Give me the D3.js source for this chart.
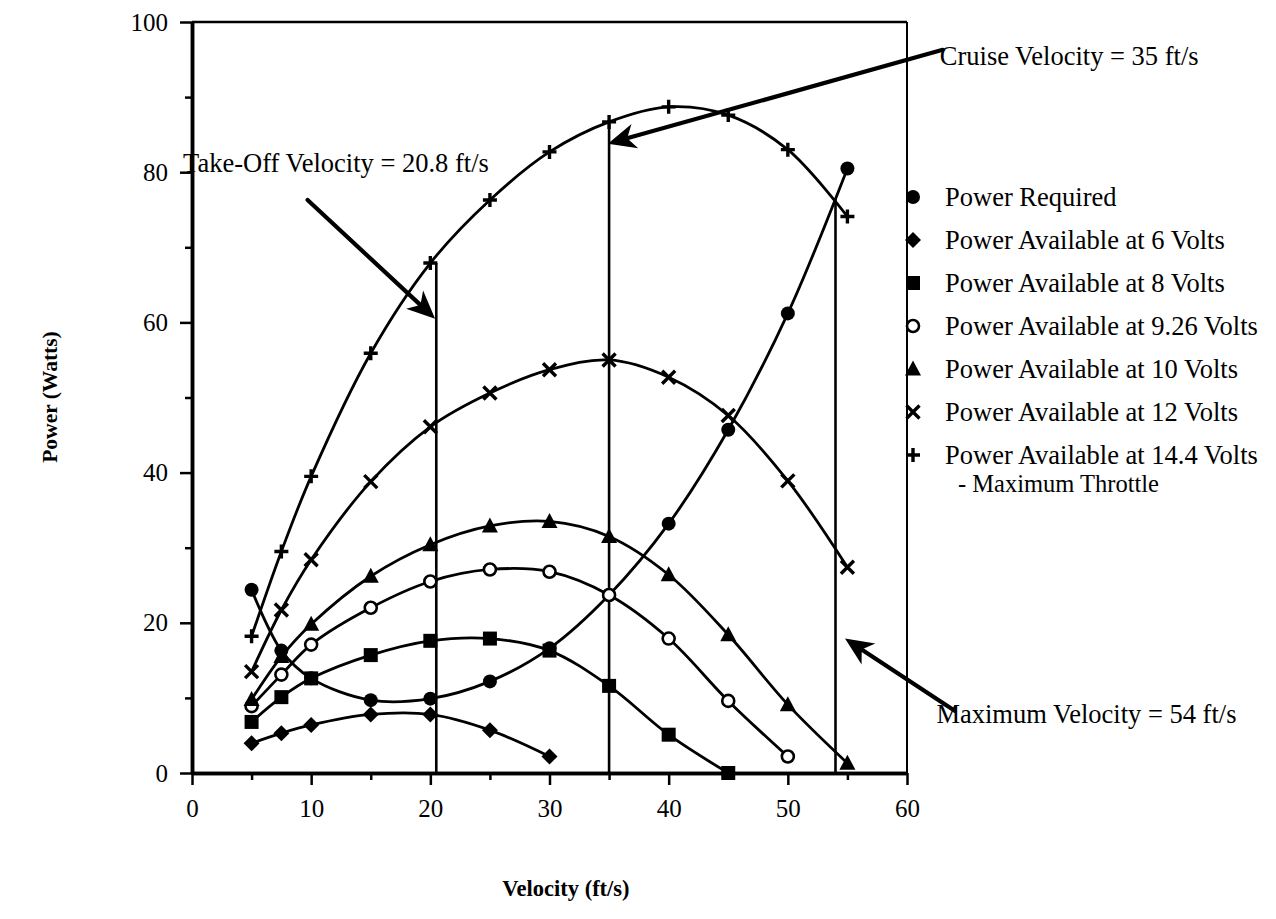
<!DOCTYPE html>
<html>
<head>
<meta charset="utf-8">
<script src="https://cdn.jsdelivr.net/npm/d3@7"></script>
<style>
  html, body { margin: 0; padding: 0; background: #fff; }
  svg { display: block; }
</style>
</head>
<body>
<svg id="chart" width="1276" height="919"></svg>
<script>
// ---------- data ----------
const velocity = [5, 7.5, 10, 15, 20, 25, 30, 35, 40, 45, 50, 55];
const powerRequired = [24.4, 16.3, 12.6, 9.7, 9.9, 12.2, 16.6, 23.7, 33.2, 45.7, 61.2, 80.5];
const powerAt6V    = [3.95, 5.3, 6.4, 7.8, 7.8, 5.7, 2.2];
const powerAt8V    = [6.8, 10.1, 12.6, 15.7, 17.6, 17.9, 16.3, 11.6, 5.1, 0];
const powerAt926V  = [8.9, 13.1, 17.1, 22.0, 25.5, 27.1, 26.8, 23.7, 17.9, 9.6, 2.2];
const powerAt10V   = [9.8, 15.5, 19.8, 26.2, 30.4, 32.9, 33.5, 31.5, 26.4, 18.4, 9.1, 1.3];
const powerAt12V   = [13.5, 21.7, 28.4, 38.8, 46.1, 50.6, 53.7, 55.0, 52.7, 47.6, 38.9, 27.4];
const powerAt144V  = [18.2, 29.5, 39.5, 55.9, 67.9, 76.3, 82.7, 86.7, 88.7, 87.6, 83.0, 74.1];

const seriesNames = [
  "Power Required",
  "Power Available at 6 Volts",
  "Power Available at 8 Volts",
  "Power Available at 9.26 Volts",
  "Power Available at 10 Volts",
  "Power Available at 12 Volts",
  "Power Available at 14.4 Volts"
];
const seriesMarkers = ["circle", "diamond", "square", "openCircle", "triangle", "x", "plus"];
const legendExtraLine = "- Maximum Throttle";

const xTicks = [0, 10, 20, 30, 40, 50, 60];
const xMinorTicks = [5, 15, 25, 35, 45, 55];
const yTicks = [0, 20, 40, 60, 80, 100];
const yMinorTicks = [10, 30, 50, 70, 90];

// reference lines: velocity, top power
const refLineV   = [20.5, 35, 54];
const refLineTop = [67.9, 86.7, 76.5];

// annotations (text + arrow in data units)
const annoText  = ["Take-Off Velocity = 20.8 ft/s", "Cruise Velocity = 35 ft/s", "Maximum Velocity = 54 ft/s"];
const annoTextV = [-0.75, 62.75, 62.47];
const annoTextP = [80.0, 94.3, 6.6];
const arrowFrom = [[9.7, 76.3], [63.0, 96.3], [64.0, 8.3]];
const arrowTo   = [[20.4, 60.5], [34.9, 83.8], [54.8, 17.9]];

const xTitle = "Velocity (ft/s)";
const yTitle = "Power (Watts)";

// ---------- drawing ----------
const svg = d3.select("#chart");
const x = d3.scaleLinear().domain([0, 60]).range([192, 907]);
const y = d3.scaleLinear().domain([0, 100]).range([773, 22]);
const FONT = "'Liberation Serif', 'Times New Roman', serif";
const TXT = 26.5;

const seriesValues = [powerRequired, powerAt6V, powerAt8V, powerAt926V, powerAt10V, powerAt12V, powerAt144V];
const series = seriesNames.map((name, i) => ({
  name, marker: seriesMarkers[i],
  points: seriesValues[i].map((p, j) => ({ v: velocity[j], p }))
}));

// annotations text (drawn under axis)
const annoG = svg.append("g");
annoText.forEach((t, i) => {
  annoG.append("text")
    .attr("x", x(annoTextV[i])).attr("y", y(annoTextP[i]))
    .attr("font-family", FONT).attr("font-size", TXT).attr("fill", "#000")
    .text(t);
});

// frame: top & right
svg.append("line").attr("x1", x(0)).attr("x2", x(60)).attr("y1", y(100)).attr("y2", y(100))
  .attr("stroke", "#000").attr("stroke-width", 2.5);
svg.append("line").attr("x1", x(60)).attr("x2", x(60)).attr("y1", y(100)).attr("y2", y(0))
  .attr("stroke", "#000").attr("stroke-width", 2);

// axes
function styleAxis(g, fs) {
  g.select(".domain").attr("stroke", "#000").attr("stroke-width", 3.5);
  g.selectAll(".tick line").attr("stroke", "#000").attr("stroke-width", 2.5);
  g.selectAll(".tick text").attr("font-family", FONT).attr("font-size", fs).attr("fill", "#000");
}
const xAxisMinor = svg.append("g").attr("transform", `translate(0,${y(0)})`)
  .call(d3.axisBottom(x).tickValues(xMinorTicks).tickSize(7).tickSizeOuter(0).tickFormat(""));
styleAxis(xAxisMinor, 25);
const xAxis = svg.append("g").attr("transform", `translate(0,${y(0)})`)
  .call(d3.axisBottom(x).tickValues(xTicks).tickSize(12).tickSizeOuter(0).tickPadding(14).tickFormat(d3.format("d")));
styleAxis(xAxis, 25);

const yAxisMinor = svg.append("g").attr("transform", `translate(${x(0)},0)`)
  .call(d3.axisLeft(y).tickValues(yMinorTicks).tickSize(7).tickSizeOuter(0).tickFormat(""));
styleAxis(yAxisMinor, 25);
const yAxis = svg.append("g").attr("transform", `translate(${x(0)},0)`)
  .call(d3.axisLeft(y).tickValues(yTicks).tickSize(12).tickSizeOuter(0).tickPadding(12).tickFormat(d3.format("d")));
styleAxis(yAxis, 25);

// axis titles
svg.append("text").attr("x", 566).attr("y", 888).attr("text-anchor", "middle")
  .attr("dominant-baseline", "central")
  .attr("font-family", FONT).attr("font-weight", "bold").attr("font-size", 22.5).text(xTitle);
svg.append("text").attr("transform", "translate(50,397) rotate(-90)").attr("text-anchor", "middle")
  .attr("dominant-baseline", "central")
  .attr("font-family", FONT).attr("font-weight", "bold").attr("font-size", 21.5).text(yTitle);

// reference vertical lines
refLineV.forEach((v, i) => {
  svg.append("line").attr("x1", x(v)).attr("x2", x(v)).attr("y1", y(0)).attr("y2", y(refLineTop[i]))
    .attr("stroke", "#000").attr("stroke-width", 2.6);
});

// series lines
const line = d3.line().x(d => x(d.v)).y(d => y(d.p)).curve(d3.curveCatmullRom.alpha(0.5));
const linesG = svg.append("g");
series.forEach(s => {
  linesG.append("path").attr("d", line(s.points)).attr("fill", "none")
    .attr("stroke", "#000").attr("stroke-width", 2.8).attr("stroke-linejoin", "round");
});

// markers
function drawMarker(g, type, cx, cy) {
  const k = g.append("g").attr("transform", `translate(${cx},${cy})`);
  switch (type) {
    case "circle":
      k.append("circle").attr("r", 7).attr("fill", "#000"); break;
    case "openCircle":
      k.append("circle").attr("r", 6).attr("fill", "#fff").attr("stroke", "#000").attr("stroke-width", 2.6); break;
    case "square":
      k.append("rect").attr("x", -7).attr("y", -7).attr("width", 14).attr("height", 14).attr("fill", "#000"); break;
    case "diamond":
      k.append("path").attr("d", "M0,-8L8,0L0,8L-8,0Z").attr("fill", "#000"); break;
    case "triangle":
      k.append("path").attr("d", "M0,-8.5L8,6.5L-8,6.5Z").attr("fill", "#000"); break;
    case "x":
      k.append("path").attr("d", "M-6.5,-6.5L6.5,6.5M-6.5,6.5L6.5,-6.5").attr("stroke", "#000").attr("stroke-width", 3.4); break;
    case "plus":
      k.append("path").attr("d", "M-7,0L7,0M0,-7L0,7").attr("stroke", "#000").attr("stroke-width", 3.4); break;
  }
}
const markG = svg.append("g");
series.forEach(s => s.points.forEach(pt => drawMarker(markG, s.marker, x(pt.v), y(pt.p))));

// arrows
function arrowHead(g, tip, from) {
  const ang = Math.atan2(tip[1] - from[1], tip[0] - from[0]) * 180 / Math.PI;
  g.append("path")
    .attr("transform", `translate(${tip[0]},${tip[1]}) rotate(${ang})`)
    .attr("d", "M0,0L-28,-12.5L-20,0L-28,12.5Z").attr("fill", "#000");
}
arrowFrom.forEach((f, i) => {
  const a = [x(f[0]), y(f[1])];
  const b = [x(arrowTo[i][0]), y(arrowTo[i][1])];
  const ang = Math.atan2(b[1] - a[1], b[0] - a[0]);
  const bEnd = [b[0] - Math.cos(ang) * 18, b[1] - Math.sin(ang) * 18];
  svg.append("line").attr("x1", a[0]).attr("y1", a[1]).attr("x2", bEnd[0]).attr("y2", bEnd[1])
    .attr("stroke", "#000").attr("stroke-width", 4.2).attr("stroke-linecap", "round");
  arrowHead(svg, b, a);
});

// legend
const legG = svg.append("g");
seriesNames.forEach((name, i) => {
  const cy = 197 + i * 43;
  drawMarker(legG, seriesMarkers[i], 913, cy);
  legG.append("text").attr("x", 945).attr("y", cy + 8.5)
    .attr("font-family", FONT).attr("font-size", TXT).attr("fill", "#000").text(name);
});
legG.append("text").attr("x", 958).attr("y", 197 + 6 * 43 + 8.5 + 28)
  .attr("font-family", FONT).attr("font-size", TXT - 2).attr("fill", "#000").text(legendExtraLine);
</script>
</body>
</html>
